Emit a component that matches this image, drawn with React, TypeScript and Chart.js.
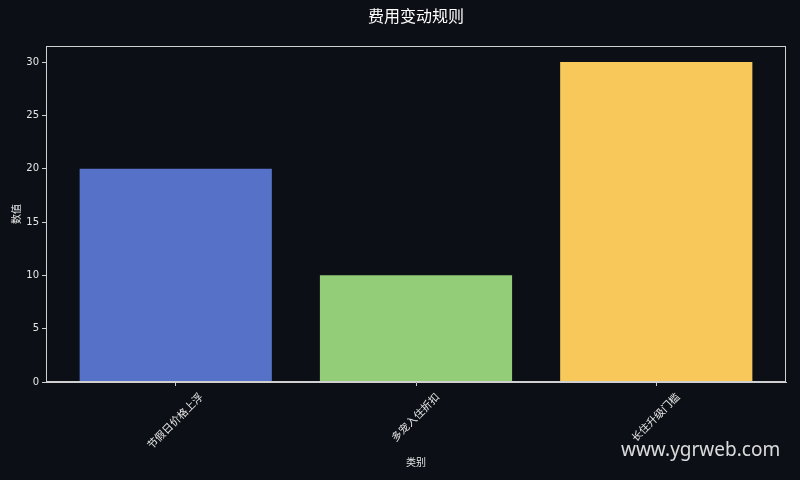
import React, { useEffect, useRef } from 'react';
import { Chart, registerables } from 'chart.js';

Chart.register(...registerables);

const chartTitle = '费用变动规则';
const categories = ['节假日价格上浮', '多宠入住折扣', '长住升级门槛'];
const values = [20, 10, 30];
const barColors = ['#5572c8', '#93cd77', '#f9c85b'];
const yTicks = [0, 5, 10, 15, 20, 25, 30];

const FONT = "'DejaVu Sans', 'Noto Sans CJK SC', sans-serif";
const BG = '#0c0f15';
const FG = '#e6e6e6';
const SPINE = '#d0d0d0';

export default function App() {
  const chartRef = useRef<HTMLCanvasElement>(null);
  const chartInstance = useRef<Chart | null>(null);

  useEffect(() => {
    if (!chartRef.current) return;
    if (chartInstance.current) chartInstance.current.destroy();
    const ctx = chartRef.current.getContext('2d');
    if (!ctx) return;

    // background, title over the plot, box spines and centered rotated category labels
    const decor = {
      id: 'decor',
      beforeDraw(chart: Chart) {
        const c = chart.ctx;
        c.save();
        c.fillStyle = BG;
        c.fillRect(0, 0, chart.width, chart.height);
        c.restore();
      },
      afterDraw(chart: Chart) {
        const c = chart.ctx;
        const area = chart.chartArea;
        c.save();
        c.strokeStyle = SPINE;
        c.lineWidth = 1;
        c.strokeRect(area.left + 0.5, area.top + 0.5, area.right - area.left - 1, area.bottom - area.top - 1);

        c.font = `16px ${FONT}`;
        c.fillStyle = '#ffffff';
        c.textAlign = 'center';
        c.textBaseline = 'middle';
        c.fillText(chartTitle, (area.left + area.right) / 2, 18);

        const xs = chart.scales.x;
        c.font = `10.5px ${FONT}`;
        c.fillStyle = FG;
        categories.forEach((label, i) => {
          const px = xs.getPixelForValue(i);
          const w = c.measureText(label).width;
          const h = 10.5;
          const extent = (w + h) / Math.SQRT2;
          const cy = area.bottom + 10 + extent / 2;
          c.save();
          c.translate(px, cy);
          c.rotate(-Math.PI / 4);
          c.fillText(label, 0, 0);
          c.restore();
        });
        c.restore();
      },
    };

    chartInstance.current = new Chart(ctx, {
      type: 'bar',
      data: {
        datasets: [
          {
            data: values.map((v, i) => ({ x: i, y: v })),
            backgroundColor: barColors,
            borderWidth: 0,
            barPercentage: 0.8,
            categoryPercentage: 1,
          },
        ],
      },
      plugins: [decor],
      options: {
        animation: false,
        responsive: false,
        maintainAspectRatio: false,
        layout: { padding: { left: 0, right: 14, top: 46, bottom: 0 } },
        plugins: {
          legend: { display: false },
          tooltip: { enabled: false },
          title: { display: false },
        },
        scales: {
          x: {
            type: 'linear',
            min: -0.54,
            max: 2.54,
            offset: false,
            afterBuildTicks: (scale: any) => {
              scale.ticks = categories.map((_, i) => ({ value: i }));
            },
            afterFit: (scale: any) => {
              scale.height = 98;
            },
            ticks: { display: false },
            grid: {
              offset: false,
              drawOnChartArea: false,
              drawTicks: true,
              tickLength: 4,
              color: SPINE,
            },
            border: { color: SPINE },
            title: {
              display: true,
              text: '类别',
              color: FG,
              font: { family: FONT, size: 10 },
              padding: { top: 0, bottom: 11 },
            },
          },
          y: {
            min: 0,
            max: 31.5,
            afterBuildTicks: (scale: any) => {
              scale.ticks = yTicks.map((v) => ({ value: v }));
            },
            afterFit: (scale: any) => {
              scale.width = 46;
            },
            ticks: {
              color: FG,
              font: { family: FONT, size: 10 },
              padding: 3,
            },
            grid: {
              drawOnChartArea: false,
              drawTicks: true,
              tickLength: 4,
              color: SPINE,
            },
            border: { color: SPINE },
            title: {
              display: true,
              text: '数值',
              color: FG,
              font: { family: FONT, size: 10 },
              padding: { top: 11, bottom: 0 },
            },
          },
        },
      },
    });

    return () => {
      if (chartInstance.current) {
        chartInstance.current.destroy();
        chartInstance.current = null;
      }
    };
  }, []);

  return (
    <div style={{ position: 'fixed', left: 0, top: 0, width: 800, height: 480, background: BG }}>
      <canvas ref={chartRef} width={800} height={480} style={{ width: 800, height: 480 }}></canvas>
      <div
        style={{
          position: 'absolute',
          left: 621,
          top: 437,
          fontFamily: "'Noto Sans', 'DejaVu Sans', sans-serif",
          fontSize: 19,
          lineHeight: '24px',
          color: 'rgba(255,255,255,0.85)',
          whiteSpace: 'nowrap',
        }}
      >
        www.ygrweb.com
      </div>
    </div>
  );
}
